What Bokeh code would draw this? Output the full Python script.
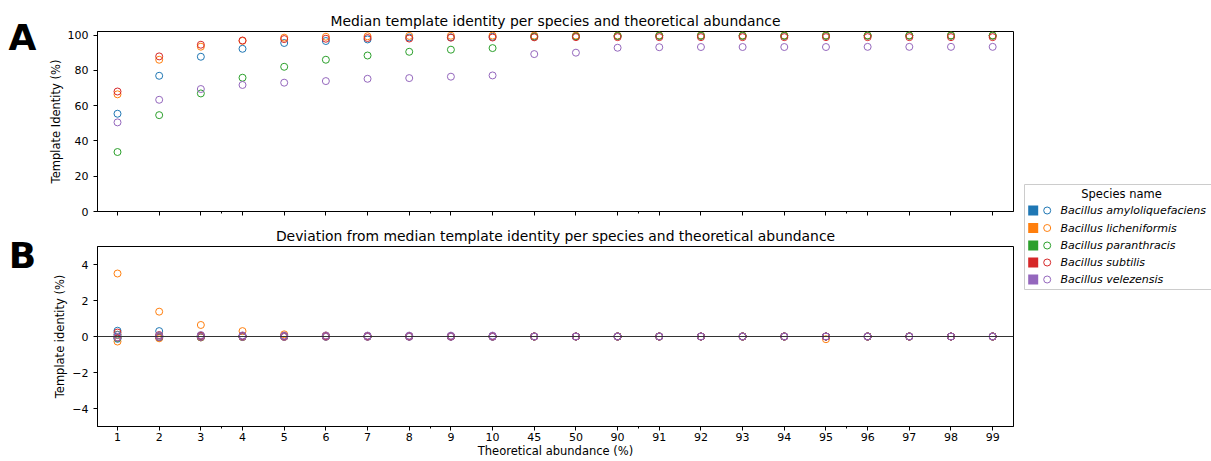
from bokeh.plotting import figure
from bokeh.models import Range1d, FixedTicker, Span, ColumnDataSource
from bokeh.layouts import row, column
from bokeh.embed import file_html
from bokeh.resources import INLINE
from bokeh.core.properties import value

# ---------------- data ----------------
abundance = ["1", "2", "3", "4", "5", "6", "7", "8", "9", "10", "45", "50",
             "90", "91", "92", "93", "94", "95", "96", "97", "98", "99"]
species = ["Bacillus amyloliquefaciens", "Bacillus licheniformis",
           "Bacillus paranthracis", "Bacillus subtilis", "Bacillus velezensis"]
colors = ["#1f77b4", "#ff7f0e", "#2ca02c", "#d62728", "#9467bd"]

median_amylo = [55.4, 76.9, 87.7, 92.2, 95.5, 96.6, 97.5, 98.6, 98.7, 99.0, 99.3,
                99.3, 99.4, 99.5, 99.5, 99.5, 99.5, 99.5, 99.6, 99.6, 99.6, 99.6]
median_lichen = [66.4, 86.0, 93.4, 96.7, 98.5, 99.0, 99.3, 99.5, 99.6, 99.7, 99.7,
                 99.7, 99.7, 99.8, 99.8, 99.8, 99.8, 99.8, 99.8, 99.8, 99.8, 99.8]
median_paran = [33.7, 54.6, 66.9, 75.8, 82.0, 86.0, 88.4, 90.5, 91.7, 92.6, 99.0,
                99.2, 99.5, 99.6, 99.6, 99.6, 99.6, 99.6, 99.7, 99.7, 99.7, 99.7]
median_subt = [68.0, 87.9, 94.5, 96.9, 97.7, 97.9, 98.3, 98.0, 98.5, 98.6, 98.7,
               98.8, 98.8, 98.8, 98.8, 98.8, 98.8, 98.8, 98.8, 98.8, 98.8, 98.8]
median_velez = [50.5, 63.3, 69.4, 71.7, 73.0, 73.9, 75.2, 75.6, 76.4, 77.1, 89.2,
                90.0, 92.8, 93.1, 93.2, 93.2, 93.2, 93.2, 93.3, 93.3, 93.3, 93.3]

dev_amylo = [[0.32, 0.30, 0.02, 0.02, 0.02, 0.01, 0.01, 0.0, 0.0, 0.0, 0.0,
              0.0, 0.0, 0.0, 0.0, 0.0, 0.0, 0.0, 0.0, 0.0, 0.0, 0.0],
             [-0.13, -0.04, -0.05, -0.02, -0.01, 0.0, 0.0, 0.0, 0.0, 0.0, 0.0,
              0.0, 0.0, 0.0, 0.0, 0.0, 0.0, 0.0, 0.0, 0.0, 0.0, 0.0]]
dev_lichen = [[3.5, 1.38, 0.64, 0.30, 0.12, 0.05, 0.03, 0.02, 0.01, 0.01, 0.0,
               0.0, 0.0, 0.0, 0.0, 0.0, 0.0, 0.0, 0.0, 0.0, 0.0, 0.0],
              [-0.28, -0.10, -0.05, -0.03, -0.02, -0.01, -0.01, 0.0, 0.0, 0.0, 0.0,
               0.0, 0.0, 0.0, 0.0, 0.0, 0.0, -0.15, 0.0, 0.0, 0.0, 0.0]]
dev_paran = [[0.10, 0.05, 0.04, 0.03, 0.02, 0.02, 0.01, 0.01, 0.01, 0.0, 0.0,
              0.0, 0.0, 0.0, 0.0, 0.0, 0.0, 0.0, 0.0, 0.0, 0.0, 0.0],
             [-0.08, -0.04, -0.03, -0.02, -0.01, -0.01, 0.0, 0.0, 0.0, 0.0, 0.0,
              0.0, 0.0, 0.0, 0.0, 0.0, 0.0, 0.0, 0.0, 0.0, 0.0, 0.0]]
dev_subt = [[0.22, 0.08, 0.05, 0.03, 0.02, 0.02, 0.01, 0.01, 0.0, 0.0, 0.0,
             0.0, 0.0, 0.0, 0.0, 0.0, 0.0, 0.0, 0.0, 0.0, 0.0, 0.0],
            [-0.05, -0.03, -0.02, -0.01, -0.01, 0.0, 0.0, 0.0, 0.0, 0.0, 0.0,
             0.0, 0.0, 0.0, 0.0, 0.0, 0.0, 0.0, 0.0, 0.0, 0.0, 0.0]]
dev_velez = [[0.08, 0.06, 0.08, 0.06, 0.05, 0.06, 0.05, 0.05, 0.05, 0.05, 0.0,
              0.0, 0.0, 0.0, 0.0, 0.0, 0.0, 0.0, 0.0, 0.0, 0.0, 0.0],
             [-0.05, -0.03, -0.02, -0.02, -0.02, -0.02, -0.02, -0.02, -0.02, -0.02, 0.0,
              0.0, 0.0, 0.0, 0.0, 0.0, 0.0, 0.0, 0.0, 0.0, 0.0, 0.0]]

medians = [median_amylo, median_lichen, median_paran, median_subt, median_velez]
deviations = [dev_amylo, dev_lichen, dev_paran, dev_subt, dev_velez]
panel_letters = ["A", "B"]

# ---------------- styling ----------------
FONT = "DejaVu Sans"
TICK_FS = "11px"
LABEL_FS = "11.5px"
TITLE_FS = "13.9px"
LEGEND_FS = "11px"
x_idx = list(range(len(abundance)))
LEFT_W = 44


def base_fig(title, ylabel, y_range, yticks, min_top, min_bottom):
    p = figure(frame_width=916, frame_height=180,
               x_range=Range1d(-0.48, 21.5), y_range=y_range,
               output_backend="svg", toolbar_location=None,
               min_border_left=97 - LEFT_W, min_border_right=10,
               min_border_top=min_top, min_border_bottom=min_bottom)
    p.title.text = title
    p.title.align = "center"
    p.title.text_font = FONT
    p.title.text_font_size = TITLE_FS
    p.title.text_font_style = "normal"
    p.title.text_color = "black"
    p.title.standoff = 5
    p.xgrid.visible = False
    p.ygrid.visible = False
    p.outline_line_color = "black"
    p.outline_line_width = 1
    p.background_fill_color = "white"
    p.border_fill_color = "white"

    p.xaxis.ticker = FixedTicker(ticks=x_idx, minor_ticks=[2.5, 7.5, 12.5, 17.5])
    p.yaxis.ticker = FixedTicker(ticks=yticks, minor_ticks=[])
    for ax in (p.xaxis, p.yaxis):
        ax.major_tick_out = 4
        ax.major_tick_in = 0
        ax.minor_tick_out = 2
        ax.minor_tick_in = 0
        ax.major_tick_line_color = "black"
        ax.minor_tick_line_color = "black"
        ax.axis_line_color = "black"
        ax.major_label_text_font = FONT
        ax.major_label_text_font_size = TICK_FS
        ax.major_label_text_color = "black"
        ax.axis_label_text_font = FONT
        ax.axis_label_text_font_size = LABEL_FS
        ax.axis_label_text_font_style = "normal"
        ax.axis_label_text_color = "black"
    p.yaxis.major_label_standoff = 5
    p.yaxis.axis_label = ylabel
    p.yaxis.axis_label_standoff = 2
    return p


# ---------------- top panel ----------------
p1 = base_fig("Median template identity per species and theoretical abundance",
              "Template Identity (%)", Range1d(0, 102), [0, 20, 40, 60, 80, 100], 31, 12)
p1.xaxis.major_label_overrides = {i: "" for i in x_idx}
p1.xaxis.major_label_standoff = 0
for vals, col in zip(medians, colors):
    src = ColumnDataSource(dict(x=x_idx, y=vals))
    p1.scatter("x", "y", source=src, marker="circle", size=7, fill_color=None,
               line_color=col, line_width=1)

# ---------------- bottom panel ----------------
p2 = base_fig("Deviation from median template identity per species and theoretical abundance",
              "Template identity (%)", Range1d(-5, 5), [-4, -2, 0, 2, 4], 23, 35)
p2.xaxis.major_label_overrides = {i: lab for i, lab in enumerate(abundance)}
p2.yaxis.major_label_overrides = {-4: "\u22124", -2: "\u22122", 0: "0", 2: "2", 4: "4"}
p2.xaxis.axis_label = "Theoretical abundance (%)"
p2.xaxis.major_label_standoff = 2
p2.xaxis.axis_label_standoff = 0
p2.add_layout(Span(location=0, dimension="width", line_color="#333333", line_width=1.2))
for reps, col in zip(deviations, colors):
    for rep in reps:
        src = ColumnDataSource(dict(x=x_idx, y=rep))
        p2.scatter("x", "y", source=src, marker="circle", size=7, fill_color=None,
                   line_color=col, line_width=1)

# ---------------- panel letters (separate narrow strip) ----------------
lf = figure(width=LEFT_W, height=461, x_range=Range1d(0, LEFT_W), y_range=Range1d(461, 0),
            output_backend="svg", toolbar_location=None, min_border=0)
lf.axis.visible = False
lf.xgrid.visible = False
lf.ygrid.visible = False
lf.outline_line_color = None
lf.background_fill_color = "white"
lf.border_fill_color = "white"
lf.text(x=[22, 22], y=[37, 255], text=panel_letters, text_font=value(FONT),
        text_font_size="36px", text_font_style="bold", text_color="black",
        text_align="center", text_baseline="middle")

# ---------------- legend (separate panel) ----------------
leg = figure(width=188, height=108, x_range=Range1d(0, 188), y_range=Range1d(108, 0),
             output_backend="svg", toolbar_location=None, min_border=0)
leg.axis.visible = False
leg.xgrid.visible = False
leg.ygrid.visible = False
leg.outline_line_color = None
leg.background_fill_color = "white"
leg.border_fill_color = "white"
leg.margin = (183, 0, 0, 0)
leg.quad(left=[1], right=[260], top=[1], bottom=[106], fill_color="white",
         line_color="#cccccc", line_width=1)
row_y = [27, 44.5, 62, 79, 96]
leg.scatter(x=[9.7] * 5, y=row_y, marker="square", size=10, fill_color=colors,
            line_color=None)
leg.scatter(x=[23.7] * 5, y=row_y, marker="circle", size=7, fill_color=None,
            line_color=colors, line_width=1)
leg.text(x=[37] * 5, y=row_y, text=species, text_font=value(FONT),
         text_font_size=LEGEND_FS, text_font_style="italic", text_color="black",
         text_baseline="middle", text_align="left")
leg.text(x=[98], y=[10.5], text=["Species name"], text_font=value(FONT),
         text_font_size="11.5px", text_color="black", text_baseline="middle",
         text_align="center")

layout = row(lf, column(p1, p2), leg)

open("out.html", "w").write(file_html(layout, INLINE, title="Template identity"))
